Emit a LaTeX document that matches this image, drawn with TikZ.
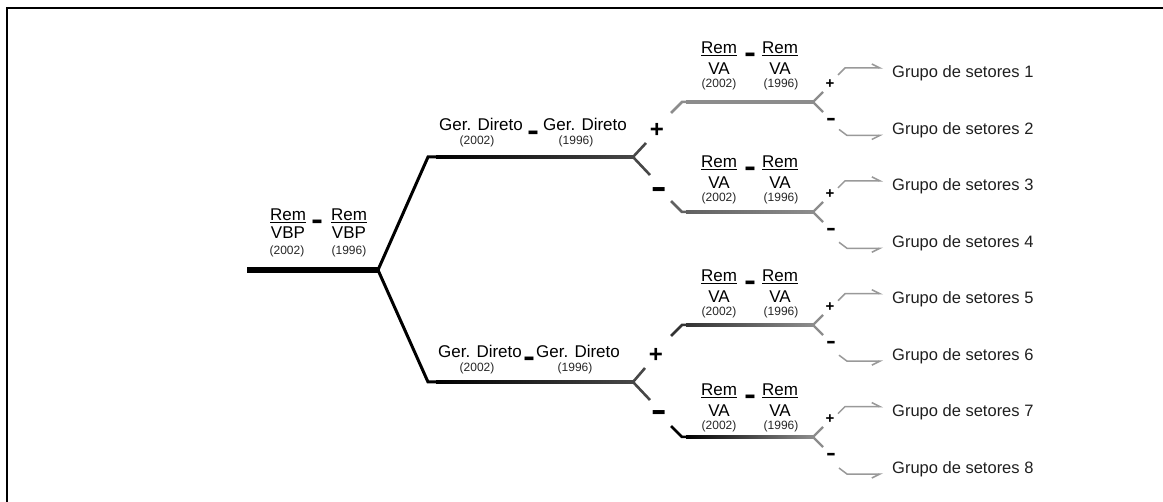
\documentclass[tikz,border=0pt]{standalone}
\usepackage{fontspec}
\usepackage{graphicx}
\setmainfont{Liberation Sans}
\usetikzlibrary{arrows.meta}
\newcommand\thickdash[1]{\scalebox{1}[#1]{–}}
\tikzset{
  lbl/.style={inner sep=0pt, anchor=base, font=\fontsize{17}{20}\selectfont},
  yr/.style={inner sep=0pt, anchor=base, font=\fontsize{12}{14}\selectfont, text=black!85},
  dashsym/.style={inner sep=0pt, font=\fontsize{18}{20}\selectfont\bfseries},
  bigsign/.style={inner sep=0pt, font=\fontsize{24}{26}\selectfont\bfseries},
  smallsign/.style={inner sep=0pt, font=\fontsize{15}{16}\selectfont\bfseries},
  grp/.style={inner sep=0pt, anchor=base west, font=\fontsize{16.5}{20}\selectfont, text=black!88},
  lineone/.style={line width=3pt, line join=miter},
  forkone/.style={line width=2.6pt, draw=black!72},
  forktwo/.style={line width=2.2pt, draw=black!45},
  arrup/.style={draw=black!40, line width=1.5pt, line join=miter, -{Straight Barb[harpoon,length=8pt,width=8pt]}},
  arrdn/.style={draw=black!40, line width=1.5pt, line join=miter, -{Straight Barb[harpoon,swap,length=8pt,width=8pt]}},
}
\begin{document}
\begin{tikzpicture}[x=1pt,y=-1pt]
\useasboundingbox (0,0) rectangle (1163,502);
\draw[line width=2pt] (7,503) -- (7,8) -- (1164,8);

% root stem
\coordinate (s0) at (247,270);
\coordinate (r0) at (378,270);
\draw[line width=6.5pt] (s0) -- (r0);

% level one
\coordinate (cU) at (428,157); \coordinate (fU) at (633,157);
\coordinate (cL) at (428,382); \coordinate (fL) at (633,382);
\draw[lineone] (r0) -- (cU) -- ++(12,0);
\draw[lineone] (r0) -- (cL) -- ++(12,0);
\shade[left color=black, right color=black!72] (436,155.5) rectangle (633,158.5);
\shade[left color=black, right color=black!72] (436,380.5) rectangle (633,383.5);
\draw[forkone] (fU) -- ++(13,-14);
\draw[forkone] (fU) -- ++(17,18);
\draw[forkone] (fL) -- ++(12,-14);
\draw[forkone] (fL) -- ++(17,18);
\node[bigsign] (pU) at (657,130) {+};
\node[bigsign] (mU) at (659,194) {\thickdash{1.7}};
\node[bigsign] (pL) at (656,355) {+};
\node[bigsign] (mL) at (659,417) {\thickdash{1.7}};

% root labels
\node[lbl] (vr1) at (288,221) {\underline{Rem}};
\node[lbl] (vd1) at (288,239) {VBP};
\node[yr]  (vy1) at (287,255) {(2002)};
\node[dashsym] (vm) at (318,226) {\thickdash{2}};
\node[lbl] (vr2) at (349,221) {\underline{Rem}};
\node[lbl] (vd2) at (349,239) {VBP};
\node[yr]  (vy2) at (349,255) {(1996)};

% Ger. Direto labels
\node[lbl] (gu1) at (481,131) {Ger. Direto};
\node[yr]  (guy1) at (477,145) {(2002)};
\node[dashsym] (gum) at (534,137) {\thickdash{2}};
\node[lbl] (gu2) at (585,131) {Ger. Direto};
\node[yr]  (guy2) at (576,145) {(1996)};
\node[lbl] (gl1) at (480,358) {Ger. Direto};
\node[yr]  (gly1) at (477,372) {(2002)};
\node[dashsym] (glm) at (530,363) {\thickdash{2}};
\node[lbl] (gl2) at (578,358) {Ger. Direto};
\node[yr]  (gly2) at (575,372) {(1996)};

% level two
\foreach \n/\y/\s/\c in {1/102/-1/45, 2/212/1/62, 3/325/-1/80, 4/437/1/100}{
  \pgfmathsetmacro\ys{\y-11*\s}
  \coordinate (d\n) at (671,\ys);
  \coordinate (c\n) at (682,\y);
  \coordinate (f\n) at (813,\y);
  \draw[line width=2.5pt, draw=black!\c, line join=miter] (d\n) -- (c\n) -- ++(6,0);
  \shade[left color=black!\c, right color=black!45] (686,{\y-1.25}) rectangle (813,{\y+1.25});
  \draw[forktwo] (f\n) -- ++(10,-10);
  \draw[forktwo] (f\n) -- ++(10,10);
  \node[smallsign] (p\n) at (830,{\y-18}) {+};
  \node[smallsign] (m\n) at (831,{\y+20}) {\thickdash{1.7}};
  % labels
  \pgfmathsetmacro\rb{54+114*(\n-1)}
  \node[lbl] (ra\n) at (719,\rb) {\underline{Rem}};
  \node[lbl] (da\n) at (719,{\rb+21}) {VA};
  \node[yr]  (ya\n) at (719,{\rb+34}) {(2002)};
  \node[dashsym] (ma\n) at (750,{\rb+5}) {\thickdash{2}};
  \node[lbl] (rb\n) at (780,\rb) {\underline{Rem}};
  \node[lbl] (db\n) at (780,{\rb+21}) {VA};
  \node[yr]  (yb\n) at (781,{\rb+34}) {(1996)};
  % groups
  \pgfmathtruncatemacro\iu{2*\n-1}
  \pgfmathtruncatemacro\il{2*\n}
  \pgfmathsetmacro\gu{72+56.43*(\iu-1)}
  \pgfmathsetmacro\gl{72+56.43*(\il-1)}
  \node[grp] (g\iu) at (892,{\gu+6}) {Grupo de setores \iu};
  \node[grp] (g\il) at (892,{\gl+6}) {Grupo de setores \il};
  \coordinate (au\n) at (838,{\gu+3});
  \coordinate (eu\n) at (883,{\gu-4});
  \coordinate (al\n) at (839,{\gl+1});
  \coordinate (el\n) at (883,{\gl+7});
  \draw[arrup] (au\n) -- ++(7,-7) -- (eu\n);
  \draw[arrdn] (al\n) -- ++(8,6) -- (el\n);
}
\end{tikzpicture}
\end{document}
